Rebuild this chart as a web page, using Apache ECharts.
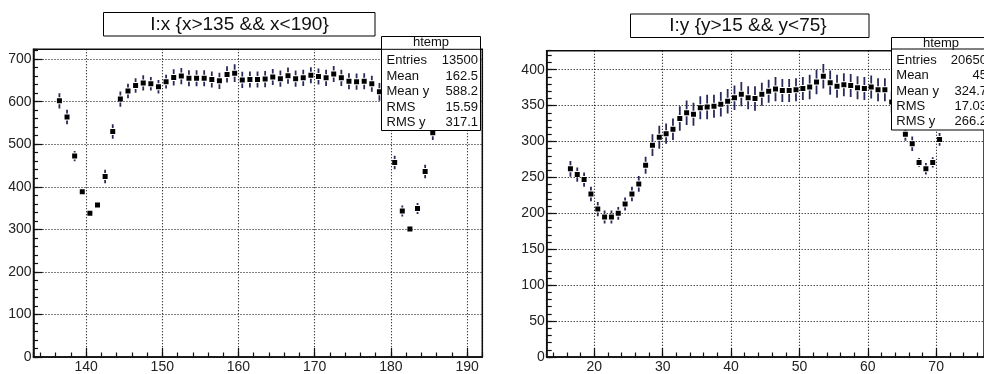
<!DOCTYPE html>
<html><head><meta charset="utf-8">
<script src="https://cdn.jsdelivr.net/npm/echarts@6/dist/echarts.min.js"></script>
<style>html,body{margin:0;padding:0;background:#fff}#c{width:984px;height:374px}</style>
</head><body><div id="c"></div>
<script>
// ---- Left profile: I vs x ----
const xBins  = [136.5,137.5,138.5,139.5,140.5,141.5,142.5,143.5,144.5,145.5,146.5,147.5,148.5,149.5,150.5,151.5,152.5,153.5,154.5,155.5,156.5,157.5,158.5,159.5,160.5,161.5,162.5,163.5,164.5,165.5,166.5,167.5,168.5,169.5,170.5,171.5,172.5,173.5,174.5,175.5,176.5,177.5,178.5,179.5,180.5,181.5,182.5,183.5,184.5,185.5,186.5,187.5,188.5,189.5];
const xMeans = [602,564,472,388,338,357,424,530,606,625,638,644,642,635,647,657,660,655,655,655,652,649,664,667,651,652,652,653,658,654,661,654,656,662,659,656,665,656,648,647,648,642,623,560,457,343,301,349,436,527,590,620,635,640];
const xErrs  = [18,17,12,4,3,3,16,17,18,17,17,18,16,16,16,19,19,19,19,19,19,19,19,21,19,19,19,19,19,19,19,19,19,19,19,19,19,19,19,19,19,19,21,18,16,13,4,13,16,17,18,18,18,18];
// ---- Right profile: I vs y ----
const yBins  = [16.5,17.5,18.5,19.5,20.5,21.5,22.5,23.5,24.5,25.5,26.5,27.5,28.5,29.5,30.5,31.5,32.5,33.5,34.5,35.5,36.5,37.5,38.5,39.5,40.5,41.5,42.5,43.5,44.5,45.5,46.5,47.5,48.5,49.5,50.5,51.5,52.5,53.5,54.5,55.5,56.5,57.5,58.5,59.5,60.5,61.5,62.5,63.5,64.5,65.5,66.5,67.5,68.5,69.5,70.5,71.5,72.5,73.5,74.5];
const yMeans = [262,254,247,227,206,195,195,200,213,227,241,267,295,306,311,317,332,340,338,347,348,349,352,356,361,366,361,360,366,370,373,371,371,372,374,376,383,391,382,377,379,378,375,374,376,372,372,355,333,310,297,271,262,271,303,340,360,368,372];
const yErrs  = [11,10,10,10,10,9,9,9,9,10,11,12,15,16,14,15,17,17,16,16,17,16,17,17,17,17,16,17,16,16,17,16,16,16,16,17,17,17,17,16,16,16,16,16,16,16,16,15,14,9,10,6,8,7,9,16,16,16,16];
// ---- Texts ----
const xTitle = 'I:x {x>135 && x<190}';
const yTitle = 'I:y {y>15 && y<75}';
const statName = 'htemp';
const statLabels = ['Entries','Mean','Mean y','RMS','RMS y'];
const statValuesX = ['13500','162.5','588.2','15.59','317.1'];
const statValuesY = ['20650','45','324.7','17.03','266.2'];

const FONT = '"Liberation Sans", Arial, Helvetica, sans-serif';
const barColor = '#2a2a58';

function renderProfile(params, api) {
  const x = api.value(0), y = api.value(1), e = api.value(2);
  const p = api.coord([x, y]);
  const t = api.coord([x, y + e]);
  const b = api.coord([x, y - e]);
  const h = 2.5, gap = 1;
  const children = [];
  if (p[1] - h - gap > t[1]) children.push({type:'line', shape:{x1:p[0],y1:t[1],x2:p[0],y2:p[1]-h-gap}, style:{stroke:barColor,lineWidth:1.8}});
  if (b[1] > p[1] + h + gap) children.push({type:'line', shape:{x1:p[0],y1:p[1]+h+gap,x2:p[0],y2:b[1]}, style:{stroke:barColor,lineWidth:1.8}});
  children.push({type:'rect', shape:{x:p[0]-h, y:p[1]-h, width:2*h, height:2*h}, style:{fill:'#000'}});
  return {type:'group', children};
}

const dotted = {show:true, lineStyle:{color:'#000', width:1.1, type:[1,2]}};
function majorX(grid, min, max, len) {
  return {gridIndex:grid, type:'value', position:'bottom', min, max, splitNumber:5, minInterval:10, maxInterval:10,
    axisLine:{show:true, lineStyle:{color:'#111', width:1.5}},
    axisTick:{show:true, inside:true, length:len, lineStyle:{color:'#111', width:1.2}},
    axisLabel:{show:true, showMinLabel:false, showMaxLabel:false, margin:3, color:'#222', fontSize:14, fontFamily:FONT},
    splitLine:dotted};
}
function minorX(grid, min, max, len) {
  return {gridIndex:grid, type:'value', position:'bottom', min, max, splitNumber:30, minInterval:2, maxInterval:2,
    axisLine:{show:false}, axisTick:{show:true, inside:true, length:len, lineStyle:{color:'#111', width:1.2}},
    axisLabel:{show:false}, splitLine:{show:false}};
}
function majorY(grid, max, interval, len) {
  return {gridIndex:grid, type:'value', position:'left', min:0, max, interval,
    axisLine:{show:true, lineStyle:{color:'#111', width:1.5}},
    axisTick:{show:true, inside:true, length:len, lineStyle:{color:'#111', width:1.2}},
    axisLabel:{show:true, showMaxLabel:false, margin:2, color:'#222', fontSize:14, fontFamily:FONT},
    splitLine:dotted};
}
function minorY(grid, max, interval, len) {
  return {gridIndex:grid, type:'value', position:'left', min:0, max, interval,
    axisLine:{show:false}, axisTick:{show:true, inside:true, length:len, lineStyle:{color:'#111', width:1.2}},
    axisLabel:{show:false}, splitLine:{show:false}};
}

const TOP = {z:100, zlevel:1};
function statBox(x, y, w, h, divY, rowStart, rowStep, labelX, valueX, values) {
  const els = [
    Object.assign({type:'rect', shape:{x, y, width:w, height:h}, style:{fill:'#fff', stroke:'#000', lineWidth:1}}, TOP),
    Object.assign({type:'line', shape:{x1:x, y1:divY, x2:x+w, y2:divY}, style:{stroke:'#000', lineWidth:1}}, TOP, {z:101}),
    Object.assign({type:'text', x:x + w/2, y:(y+divY)/2, style:{text:statName, font:'13px '+FONT, fill:'#111', align:'center', verticalAlign:'middle'}}, TOP, {z:101})
  ];
  statLabels.forEach((s, i) => {
    els.push(Object.assign({type:'text', x:labelX, y:rowStart + i*rowStep, style:{text:s, font:'13px '+FONT, fill:'#111', align:'left', verticalAlign:'middle'}}, TOP, {z:101}));
    els.push(Object.assign({type:'text', x:valueX, y:rowStart + i*rowStep, style:{text:values[i], font:'13px '+FONT, fill:'#111', align:'right', verticalAlign:'middle'}}, TOP, {z:101}));
  });
  return els;
}

const chart = echarts.init(document.getElementById('c'), null, {renderer:'canvas'});
const option = {
  backgroundColor:'#fff',
  animation:false,
  grid:[
    {left:33.5, top:49.3, width:448.8, height:312.4, show:true, borderColor:'#111', borderWidth:1.5, backgroundColor:'transparent'},
    {left:546.7, top:50.7, width:443.3, height:308, show:true, borderColor:'#111', borderWidth:1.5, backgroundColor:'transparent'}
  ],
  xAxis:[ majorX(0,133.1,192,9), minorX(0,133.1,192,4.5), majorX(1,13.03,77,9), minorX(1,13.03,77,4.5) ],
  yAxis:[ majorY(0,723,100,9), minorY(0,723,20,4.5), majorY(1,426.5,50,10), minorY(1,426.5,10,5) ],
  series:[
    {type:'custom', xAxisIndex:0, yAxisIndex:0, clip:true, renderItem:renderProfile,
     data:xBins.map((v,i)=>[v, xMeans[i], xErrs[i]])},
    {type:'custom', xAxisIndex:2, yAxisIndex:2, clip:true, renderItem:renderProfile,
     data:yBins.map((v,i)=>[v, yMeans[i], yErrs[i]])}
  ],
  graphic:{elements:[
    Object.assign({type:'rect', shape:{x:103.5, y:12.5, width:271.5, height:23.5}, style:{fill:'#fff', stroke:'#000', lineWidth:1}}, TOP),
    Object.assign({type:'text', x:239.5, y:24.5, style:{text:xTitle, font:'19px '+FONT, fill:'#111', align:'center', verticalAlign:'middle'}}, TOP, {z:101}),
    Object.assign({type:'rect', shape:{x:630.5, y:14, width:238.5, height:23.5}, style:{fill:'#fff', stroke:'#000', lineWidth:1}}, TOP),
    Object.assign({type:'text', x:748, y:26, style:{text:yTitle, font:'19px '+FONT, fill:'#111', align:'center', verticalAlign:'middle'}}, TOP, {z:101}),
    ...statBox(381.5, 36.5, 99, 94, 49.3, 60.5, 15.5, 386.5, 478, statValuesX),
    ...statBox(891.5, 37.5, 99, 92.5, 49, 60.3, 15.4, 896.3, 987, statValuesY)
  ]}
};
chart.setOption(option);
</script>
</body></html>
